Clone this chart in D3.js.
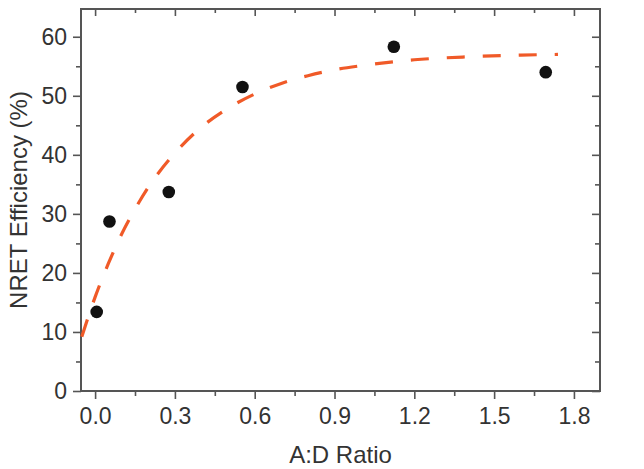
<!DOCTYPE html>
<html><head><meta charset="utf-8">
<script src="https://cdn.jsdelivr.net/npm/d3@7/dist/d3.min.js"></script>
<style>body{margin:0;background:#fff}svg{display:block}text{font-family:"Liberation Sans",Arial,sans-serif;fill:#333}</style>
</head><body><svg id="c" width="644" height="469"></svg>
<script>
// measured data points
const ratio = [0.006, 0.054, 0.277, 0.554, 1.123, 1.694];
const efficiency = [13.4, 28.7, 33.7, 51.5, 58.3, 54.0];
// fitted curve
const fitX = [-0.05, 0, 0.05, 0.1, 0.15, 0.2, 0.3, 0.4, 0.5, 0.6, 0.7, 0.8, 0.9, 1.0, 1.2, 1.4, 1.6, 1.74];
const fitY = [9.2, 15.9, 21.6, 26.6, 30.8, 34.5, 40.3, 44.7, 47.9, 50.3, 52.1, 53.4, 54.4, 55.1, 56.1, 56.6, 56.9, 57.0];
const xTicks = [0, 0.3, 0.6, 0.9, 1.2, 1.5, 1.8];
const xMinor = [0.15, 0.45, 0.75, 1.05, 1.35, 1.65];
const yTicks = [0, 10, 20, 30, 40, 50, 60];
const yMinor = [5, 15, 25, 35, 45, 55];

const svg = d3.select("#c");
const L = 81, R = 600, T = 9, B = 391;
const x = d3.scaleLinear().domain([-0.053, 1.898]).range([L, R]);
const y = d3.scaleLinear().domain([0, 64.7]).range([B, T]);
const axisCol = "#555";

function styleAxis(g){ g.select(".domain").remove(); g.selectAll("line").attr("stroke", axisCol).attr("stroke-width", 1.6); }

// bottom
svg.append("g").attr("transform", `translate(0,${B})`)
  .call(d3.axisBottom(x).tickValues(xTicks).tickSize(8).tickPadding(9).tickFormat(d3.format(".1f")))
  .call(styleAxis).call(g => g.selectAll("text").attr("font-size", 23).style("fill", "#333"));
svg.append("g").attr("transform", `translate(0,${B})`)
  .call(d3.axisBottom(x).tickValues(xMinor).tickSize(5).tickFormat(""))
  .call(styleAxis);
// top
svg.append("g").attr("transform", `translate(0,${T})`)
  .call(d3.axisBottom(x).tickValues(xTicks).tickSize(7).tickFormat(""))
  .call(styleAxis);
svg.append("g").attr("transform", `translate(0,${T})`)
  .call(d3.axisBottom(x).tickValues(xMinor).tickSize(4).tickFormat(""))
  .call(styleAxis);
// left
svg.append("g").attr("transform", `translate(${L},0)`)
  .call(d3.axisLeft(y).tickValues(yTicks).tickSize(8).tickPadding(6).tickFormat(d3.format("d")))
  .call(styleAxis).call(g => g.selectAll("text").attr("font-size", 23).style("fill", "#333"));
svg.append("g").attr("transform", `translate(${L},0)`)
  .call(d3.axisLeft(y).tickValues(yMinor).tickSize(5).tickFormat(""))
  .call(styleAxis);
// right
svg.append("g").attr("transform", `translate(${R},0)`)
  .call(d3.axisLeft(y).tickValues(yTicks).tickSize(8).tickFormat(""))
  .call(styleAxis);
svg.append("g").attr("transform", `translate(${R},0)`)
  .call(d3.axisLeft(y).tickValues(yMinor).tickSize(5).tickFormat(""))
  .call(styleAxis);

// frame
svg.append("rect").attr("x", L).attr("y", T).attr("width", R - L).attr("height", B - T)
  .attr("fill", "none").attr("stroke", axisCol).attr("stroke-width", 2);

// fit curve
const fit = fitX.map((v, i) => [v, fitY[i]]);
svg.append("path").datum(fit)
  .attr("d", d3.line().x(d => x(d[0])).y(d => y(d[1])).curve(d3.curveMonotoneX))
  .attr("fill", "none").attr("stroke", "#f05a28").attr("stroke-width", 3.2)
  .attr("stroke-dasharray", "18,18");

// points
svg.append("g").selectAll("circle").data(ratio.map((v, i) => [v, efficiency[i]])).join("circle")
  .attr("cx", d => x(d[0])).attr("cy", d => y(d[1])).attr("r", 6.3).attr("fill", "#111");

// titles
svg.append("text").attr("x", (L + R) / 2).attr("y", 463).attr("text-anchor", "middle")
  .attr("font-size", 24).text("A:D Ratio");
svg.append("text").attr("transform", `translate(27,${(T + B) / 2}) rotate(-90)`).attr("text-anchor", "middle")
  .attr("font-size", 24).text("NRET Efficiency (%)");
</script></body></html>
